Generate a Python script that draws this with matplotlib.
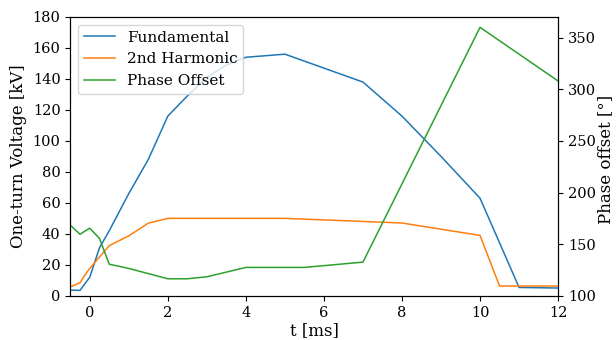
import matplotlib.pyplot as plt
import numpy as np

plt.rcParams["font.family"] = "DejaVu Serif"
plt.rcParams["font.size"] = 11
plt.rcParams["xtick.labelsize"] = 10.5
plt.rcParams["ytick.labelsize"] = 10.5

# fundamental voltage [kV]
t_fund = [-0.5, -0.25, 0, 0.25, 0.5, 1, 1.5, 2, 2.5, 3, 3.5, 4, 5, 6, 7, 8, 9, 10, 11, 12]
v_fund = [3.7, 3.5, 12, 31, 42, 66, 88, 116, 129, 141, 149, 154, 156, 147, 138, 116, 90, 63, 5.4, 5]

# 2nd harmonic voltage [kV]
t_h2 = [-0.5, -0.25, -0.125, 0, 0.5, 1, 1.5, 2, 3, 4, 5, 6, 7, 8, 9, 10, 10.5, 11, 12]
v_h2 = [5.8, 8.4, 13.4, 17.7, 32.4, 38.7, 46.9, 50, 50, 50, 50, 49, 48, 47, 43, 39, 6.3, 6.3, 6.3]

# phase offset [deg]
t_ph = [-0.5, -0.25, 0, 0.25, 0.5, 1, 1.5, 2, 2.5, 3, 4, 5, 5.5, 7, 10, 12]
p_ph = [168.5, 159.6, 165.5, 155.5, 130.6, 126.5, 121.5, 116.5, 116.5, 118.4, 127.5, 127.5, 127.5, 132.6, 360, 308]

fig, ax1 = plt.subplots(figsize=(6.16, 3.40), dpi=100)
fig.subplots_adjust(left=0.114, right=0.906, bottom=0.13, top=0.95)

l1, = ax1.plot(t_fund, v_fund, color="tab:blue", lw=1.1, label="Fundamental")
l2, = ax1.plot(t_h2, v_h2, color="tab:orange", lw=1.1, label="2nd Harmonic")
ax1.set_xlim(-0.5, 12)
ax1.set_ylim(0, 180)
ax1.set_yticks(np.arange(0, 181, 20))
ax1.set_xlabel("t [ms]", fontsize=12, labelpad=2)
ax1.set_ylabel("One-turn Voltage [kV]", fontsize=12)

ax2 = ax1.twinx()
l3, = ax2.plot(t_ph, p_ph, color="tab:green", lw=1.1, label="Phase Offset")
ax2.set_ylim(100, 370)
ax2.set_ylabel("Phase offset [°]", fontsize=12, va="center")
ax2.yaxis.set_label_coords(1.098, 0.49)

ax1.legend(handles=[l1, l2, l3], loc="upper left")

plt.savefig("out.png")
